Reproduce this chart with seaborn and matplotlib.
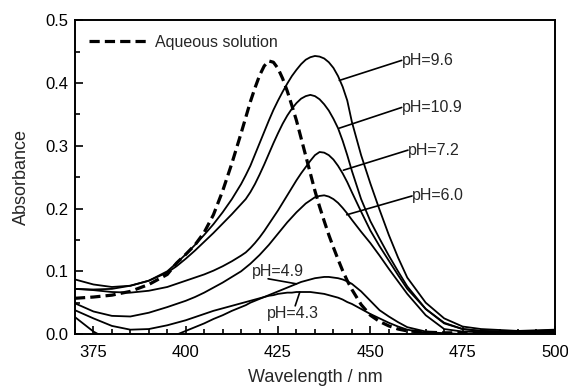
import matplotlib
matplotlib.use("Agg")
import matplotlib.pyplot as plt
import matplotlib.ticker as mticker
import seaborn as sns

# Wavelength grid (nm); sampled more finely around the absorption maxima
wavelength = [370, 375, 380, 385, 390, 395, 397.5, 400, 402.5, 405, 407.5, 410,
              412.5, 415, 416.25, 417.5, 418.75, 420, 421.25, 422.5, 423.75, 425,
              426.25, 427.5, 428.75, 430, 431.25, 432.5, 433.75, 435, 436.25,
              437.5, 438.75, 440, 441.25, 442.5, 443.75, 445, 447.5, 450, 452.5,
              455, 457.5, 460, 465, 470, 475, 480, 490, 500]

# Absorbance spectra
aqueous = [0.057, 0.059, 0.062, 0.068, 0.079, 0.095, 0.113, 0.127, 0.142, 0.162,
           0.190, 0.228, 0.272, 0.320, 0.345, 0.370, 0.392, 0.412, 0.427, 0.435,
           0.433, 0.423, 0.407, 0.387, 0.364, 0.340, 0.312, 0.284, 0.256, 0.228,
           0.203, 0.180, 0.158, 0.138, 0.119, 0.101, 0.085, 0.071, 0.047, 0.030,
           0.020, 0.013, 0.008, 0.005, 0.003, 0.002, 0.002, 0.002, 0.002, 0.003]
ph_9_6 = [0.087, 0.079, 0.075, 0.077, 0.085, 0.100, 0.113, 0.127, 0.142, 0.158,
          0.175, 0.194, 0.215, 0.239, 0.253, 0.268, 0.286, 0.304, 0.322, 0.340,
          0.357, 0.372, 0.386, 0.399, 0.411, 0.421, 0.430, 0.437, 0.441, 0.443,
          0.442, 0.439, 0.433, 0.424, 0.411, 0.394, 0.372, 0.338, 0.285, 0.240,
          0.198, 0.158, 0.122, 0.090, 0.050, 0.025, 0.012, 0.008, 0.005, 0.007]
ph_10_9 = [0.072, 0.071, 0.072, 0.077, 0.085, 0.098, 0.108, 0.120, 0.133, 0.147,
           0.161, 0.176, 0.191, 0.207, 0.215, 0.226, 0.239, 0.254, 0.270, 0.287,
           0.304, 0.320, 0.335, 0.348, 0.359, 0.368, 0.375, 0.379, 0.381, 0.379,
           0.374, 0.366, 0.356, 0.343, 0.328, 0.308, 0.285, 0.260, 0.215, 0.180,
           0.152, 0.125, 0.100, 0.076, 0.040, 0.018, 0.008, 0.005, 0.004, 0.006]
ph_7_2 = [0.072, 0.070, 0.067, 0.066, 0.069, 0.075, 0.080, 0.085, 0.090, 0.095,
          0.101, 0.108, 0.116, 0.125, 0.130, 0.137, 0.145, 0.154, 0.164, 0.175,
          0.186, 0.197, 0.209, 0.221, 0.233, 0.245, 0.256, 0.266, 0.276, 0.285,
          0.290, 0.289, 0.285, 0.278, 0.268, 0.256, 0.242, 0.226, 0.195, 0.165,
          0.140, 0.117, 0.094, 0.072, 0.040, 0.017, 0.008, 0.005, 0.003, 0.005]
ph_6_0 = [0.049, 0.036, 0.029, 0.028, 0.034, 0.043, 0.048, 0.053, 0.059, 0.066,
          0.074, 0.082, 0.091, 0.100, 0.106, 0.112, 0.119, 0.126, 0.134, 0.142,
          0.151, 0.160, 0.169, 0.178, 0.186, 0.194, 0.201, 0.208, 0.213, 0.218,
          0.220, 0.221, 0.219, 0.215, 0.209, 0.201, 0.192, 0.182, 0.163, 0.145,
          0.125, 0.104, 0.084, 0.064, 0.030, 0.008, 0.004, 0.003, 0.002, 0.004]
ph_4_9 = [0.027, 0.004, -0.012, -0.018, -0.014, -0.006, -0.001, 0.005, 0.011, 0.017,
          0.024, 0.030, 0.037, 0.043, 0.046, 0.050, 0.053, 0.056, 0.059, 0.062,
          0.065, 0.068, 0.071, 0.074, 0.077, 0.080, 0.083, 0.085, 0.087, 0.089,
          0.090, 0.091, 0.091, 0.090, 0.089, 0.087, 0.084, 0.080, 0.068, 0.053,
          0.038, 0.028, 0.019, 0.011, 0.004, 0.001, 0.000, 0.000, 0.001, 0.003]
ph_4_3 = [0.038, 0.025, 0.013, 0.007, 0.008, 0.014, 0.018, 0.022, 0.027, 0.032,
          0.037, 0.041, 0.045, 0.049, 0.051, 0.053, 0.055, 0.057, 0.059, 0.061,
          0.062, 0.064, 0.065, 0.066, 0.066, 0.067, 0.067, 0.067, 0.067, 0.066,
          0.065, 0.064, 0.062, 0.060, 0.058, 0.055, 0.051, 0.048, 0.040, 0.032,
          0.025, 0.018, 0.012, 0.007, 0.002, 0.001, 0.000, 0.000, 0.001, 0.003]

x_ticks = [375, 400, 425, 450, 475, 500]
y_ticks = [0.0, 0.1, 0.2, 0.3, 0.4, 0.5]

sns.set_style("ticks")
plt.rcParams["font.family"] = ["Liberation Sans", "DejaVu Sans"]

fig = plt.figure(figsize=(5.68, 3.88), dpi=100)
ax = fig.add_axes([0.132, 0.139, 0.845, 0.809])

series = {
    "pH=9.6": ph_9_6, "pH=10.9": ph_10_9, "pH=7.2": ph_7_2,
    "pH=6.0": ph_6_0, "pH=4.9": ph_4_9, "pH=4.3": ph_4_3,
}
for name, vals in series.items():
    sns.lineplot(x=wavelength, y=vals, ax=ax, color="black", lw=1.3,
                 legend=False)

sns.lineplot(x=wavelength, y=aqueous, ax=ax, color="black", lw=2.3,
             label="Aqueous solution")
ax.lines[-1].set_dashes([3.2, 1.6])

ax.set_xlim(370, 500)
ax.set_ylim(0, 0.5)
ax.set_xticks(x_ticks)
ax.set_yticks(y_ticks)
ax.set_xticklabels([str(t) for t in x_ticks])
ax.set_yticklabels([f"{t:.1f}" for t in y_ticks])
ax.xaxis.set_minor_locator(mticker.MultipleLocator(5))
ax.yaxis.set_minor_locator(mticker.MultipleLocator(0.05))
ax.tick_params(which="both", direction="in", top=False, right=False,
               colors="black", labelsize=12, width=1.2)
ax.tick_params(which="major", length=6)
ax.tick_params(which="minor", length=3.5)
ax.tick_params(axis="x", which="major", pad=8)
ax.tick_params(axis="y", which="major", pad=5)
for sp in ax.spines.values():
    sp.set_visible(True)
    sp.set_linewidth(1.4)
    sp.set_color("black")

ax.set_xlabel("Wavelength / nm", fontsize=13, labelpad=6)
ax.set_ylabel("Absorbance", fontsize=13, labelpad=11)

ax.legend(loc="upper left", frameon=False, fontsize=11.5,
          handlelength=3.6, handletextpad=0.5, borderaxespad=0.5,
          borderpad=0.4)

line_kw = dict(arrowstyle="-", color="black", lw=1.2, shrinkA=0, shrinkB=0,
               patchA=None)

# Labels on the right, each tied to its curve by a leader line
right_labels = [
    ("pH=9.6", (441.6, 0.404), (458.5, 0.436)),
    ("pH=10.9", (441.6, 0.328), (458.5, 0.361)),
    ("pH=7.2", (442.7, 0.261), (460.2, 0.293)),
    ("pH=6.0", (443.6, 0.190), (461.3, 0.220)),
]
for text, xy, xytext in right_labels:
    ax.annotate(text, xy=xy, xytext=xytext, fontsize=11.5, ha="left",
                va="center",
                arrowprops=dict(relpos=(0, 0.5), **line_kw))

ax.annotate("pH=4.9", xy=(430.0, 0.080), xytext=(417.8, 0.100), fontsize=11.5,
            ha="left", va="center",
            arrowprops=dict(relpos=(0.32, 0.0), **line_kw))
ax.annotate("pH=4.3", xy=(430.9, 0.067), xytext=(421.9, 0.033), fontsize=11.5,
            ha="left", va="center",
            arrowprops=dict(relpos=(0.55, 1.0), **line_kw))

fig.savefig("out.png", dpi=100)
